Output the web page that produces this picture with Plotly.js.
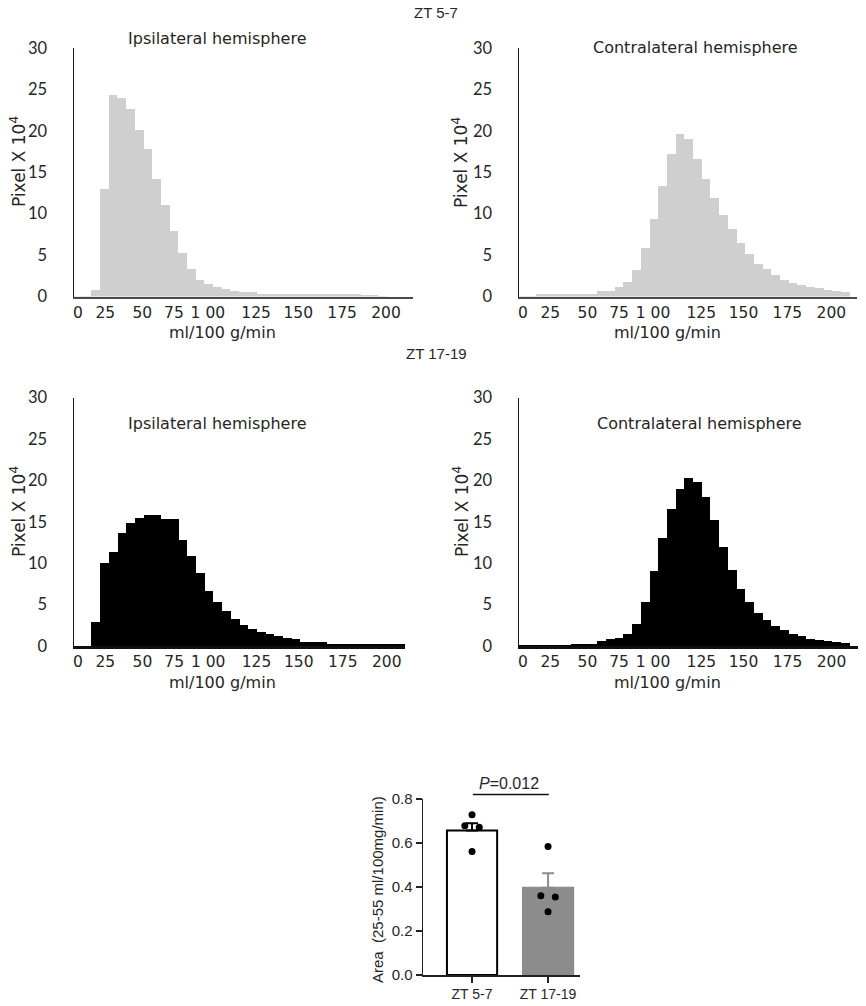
<!DOCTYPE html>
<html>
<head>
<meta charset="utf-8">
<script src="https://cdn.plot.ly/plotly-3.0.1.min.js"></script>
<style>html,body{margin:0;padding:0;background:#fff;}#chart{width:866px;height:1006px;}</style>
</head>
<body>
<div id="chart"></div>
<script>
// ---------- DATA (histogram bins, Pixel x 10^4 per bin) ----------
const ztEarlyIpsi   = [0.1,0.1,0.8,13.0,24.3,24.0,22.6,20.1,17.8,14.2,11.1,7.9,5.3,3.3,2.0,1.5,1.1,0.9,0.7,0.6,0.6,0.3,0.3,0.3,0.3,0.3,0.3,0.3,0.3,0.3,0.25,0.25,0.25,0.2,0.2,0.1,0,0];
const ztEarlyContra = [0.1,0.1,0.25,0.25,0.25,0.25,0.25,0.25,0.25,0.65,0.65,1.2,1.8,3.2,5.8,9.4,13.3,17.2,19.6,19.0,16.6,14.2,11.9,9.9,8.2,6.4,5.1,3.9,3.3,2.6,2.0,1.6,1.4,1.2,1.0,0.8,0.7,0.6];
const ztLateIpsi    = [0,0,2.85,10.0,11.4,13.7,14.8,15.5,15.8,15.8,15.3,15.3,12.8,10.9,8.8,6.7,5.3,4.2,3.3,2.5,2.1,1.75,1.45,1.2,1.0,0.8,0.5,0.5,0.45,0.3,0.3,0.3,0.3,0.3,0.3,0.3,0.3,0.3];
const ztLateContra  = [0.1,0.1,0.1,0.1,0.1,0.1,0.2,0.2,0.2,0.6,0.8,1.0,1.5,2.65,5.3,9.0,13.0,16.6,19.0,20.3,19.8,18.0,15.2,12.0,9.2,6.9,5.3,4.0,3.1,2.45,1.9,1.5,1.2,0.9,0.7,0.65,0.5,0.4];

// x tick labels (as printed) and their place along the bin axis
const xTickText = ["0","25","50","75","1 00","125","150","175","200"];
const xTickPos  = [0.45,3.6,7.86,11.5,15.4,20.95,25.8,30.85,35.9];
const yTickVals = [0,5,10,15,20,25,30];

// bar chart data
const groups    = ["ZT 5-7","ZT 17-19"];
const barMeans  = [0.657,0.397];
const barSEM    = [0.033,0.066];
const pointsEarly = [0.728,0.678,0.672,0.561];
const pointsLate  = [0.584,0.360,0.354,0.288];
const pointJitter = [0,-0.095,0.095,0];
const pText = "<i>P</i>=0.012";

// ---------- LAYOUT HELPERS ----------
const W = 866, H = 1006;
const fx = px => px / W;
const fy = py => 1 - py / H;
const FONT = "Lato, 'Open Sans', sans-serif";
const WIDE = "'DejaVu Sans', 'Open Sans', sans-serif";
const TXT = "#262626";

const panels = [
  {id:"",  vals:ztEarlyIpsi,   color:"#cfcfcf", xd:[74,413],  yd:[296.5,48],  xr:39.0,  title:"Ipsilateral hemisphere",   tpos:[217,38],  xt:[223,332], yt:[18,162],  line:"#4a4a4a"},
  {id:"2", vals:ztEarlyContra, color:"#cfcfcf", xd:[519,857], yd:[296.5,48],  xr:38.85, title:"Contralateral hemisphere", tpos:[695,48],  xt:[667,332], yt:[460,162], line:"#4a4a4a"},
  {id:"3", vals:ztLateIpsi,    color:"#000000", xd:[74,405],  yd:[646,397.5], xr:38.0,  title:"Ipsilateral hemisphere",   tpos:[217,423], xt:[223,682], yt:[18,512],  line:"#111111"},
  {id:"4", vals:ztLateContra,  color:"#000000", xd:[519,858], yd:[646,397.5], xr:38.95, title:"Contralateral hemisphere", tpos:[699,423], xt:[667,682], yt:[461,512], line:"#111111"}
];

const traces = [];
const layout = {
  width: W, height: H,
  margin: {l:0, r:0, t:0, b:0},
  paper_bgcolor: "#fff", plot_bgcolor: "rgba(0,0,0,0)",
  showlegend: false,
  bargap: 0,
  annotations: [],
  shapes: []
};

panels.forEach(p => {
  const xa = "x" + p.id, ya = "y" + p.id;
  traces.push({
    type: "bar",
    x: p.vals.map((v, i) => i + 0.5),
    y: p.vals,
    width: 1,
    marker: {color: p.color, line: {width: 0}},
    xaxis: xa, yaxis: ya,
    hoverinfo: "y"
  });
  layout["xaxis" + p.id] = {
    domain: [fx(p.xd[0]), fx(p.xd[1])],
    anchor: ya,
    range: [0, p.xr],
    tickmode: "array", tickvals: xTickPos, ticktext: xTickText,
    ticks: "", showgrid: false, zeroline: false,
    showline: true, linecolor: p.line, linewidth: 2.5,
    ticklabelstandoff: 0,
    tickfont: {family: WIDE, size: 15.5, color: TXT}
  };
  layout["yaxis" + p.id] = {
    domain: [fy(p.yd[0]), fy(p.yd[1])],
    anchor: xa,
    range: [0, 30],
    tickmode: "array", tickvals: yTickVals,
    ticks: "", showgrid: false, zeroline: false,
    showline: true, linecolor: "#1a1a1a", linewidth: 1.5,
    ticklabelstandoff: 22,
    tickfont: {family: FONT, size: 16.5, color: TXT}
  };
  layout.annotations.push(
    {text: p.title, xref: "paper", yref: "paper", x: fx(p.tpos[0]), y: fy(p.tpos[1]),
     xanchor: "center", yanchor: "middle", showarrow: false, font: {family: WIDE, size: 16, color: TXT}},
    {text: "ml/100 g/min", xref: "paper", yref: "paper", x: fx(p.xt[0]), y: fy(p.xt[1]),
     xanchor: "center", yanchor: "middle", showarrow: false, font: {family: WIDE, size: 16, color: TXT}},
    {text: "Pixel X 10<sup>4</sup>", xref: "paper", yref: "paper", x: fx(p.yt[0]), y: fy(p.yt[1]),
     xanchor: "center", yanchor: "middle", textangle: -90, showarrow: false, font: {family: WIDE, size: 17, color: TXT}}
  );
});

// section titles
layout.annotations.push(
  {text: "ZT 5-7", xref: "paper", yref: "paper", x: fx(436), y: fy(13), xanchor: "center", yanchor: "middle",
   showarrow: false, font: {family: "'Liberation Sans Narrow', 'Liberation Sans', sans-serif", size: 15, color: TXT}},
  {text: "ZT 17-19", xref: "paper", yref: "paper", x: fx(436), y: fy(353), xanchor: "center", yanchor: "middle",
   showarrow: false, font: {family: "'Liberation Sans Narrow', 'Liberation Sans', sans-serif", size: 15, color: TXT}}
);

// ---------- BAR CHART ----------
const ARIAL = "'Liberation Sans', Arial, sans-serif";
const barFill = ["#ffffff", "#8c8c8c"];
const barEdge = ["#000000", "#8c8c8c"];
groups.forEach((g, i) => {
  traces.push({
    type: "bar", x: [i], y: [barMeans[i]], width: 0.66,
    marker: {color: barFill[i], line: {color: barEdge[i], width: 2}},
    error_y: {type: "data", symmetric: false, array: [barSEM[i]], arrayminus: [0],
              color: barEdge[i], thickness: 2, width: 6},
    xaxis: "x5", yaxis: "y5", hoverinfo: "y"
  });
});
[pointsEarly, pointsLate].forEach((pts, gi) => {
  traces.push({
    type: "scatter", mode: "markers",
    x: pts.map((v, k) => gi + pointJitter[k]), y: pts,
    marker: {color: "#000", size: 7},
    xaxis: "x5", yaxis: "y5", hoverinfo: "y"
  });
});
layout.xaxis5 = {
  domain: [fx(423), fx(580)], anchor: "y5",
  range: [-0.645, 1.42],
  tickmode: "array", tickvals: [0, 1], ticktext: groups,
  ticks: "outside", ticklen: 6, tickwidth: 1.5, tickcolor: "#222",
  showline: true, linecolor: "#222", linewidth: 1.5,
  showgrid: false, zeroline: false,
  tickfont: {family: ARIAL, size: 14, color: TXT}
};
layout.yaxis5 = {
  domain: [fy(975), fy(799)], anchor: "x5",
  range: [0, 0.8],
  tickmode: "array", tickvals: [0, 0.2, 0.4, 0.6, 0.8], tickformat: ".1f",
  ticks: "outside", ticklen: 6, tickwidth: 1.5, tickcolor: "#222",
  showline: true, linecolor: "#222", linewidth: 1.5,
  showgrid: false, zeroline: false,
  tickfont: {family: ARIAL, size: 15, color: TXT}
};
layout.annotations.push(
  {text: "Area  (25-55 ml/100mg/min)", xref: "paper", yref: "paper", x: fx(377), y: fy(890),
   xanchor: "center", yanchor: "middle", textangle: -90, showarrow: false, font: {family: ARIAL, size: 15, color: TXT}},
  {text: pText, xref: "x5", yref: "paper", x: 0.49, y: fy(783),
   xanchor: "center", yanchor: "middle", showarrow: false, font: {family: ARIAL, size: 16, color: TXT}}
);
layout.shapes.push({type: "line", xref: "x5", yref: "paper", x0: 0.01, x1: 1.01, y0: fy(794.5), y1: fy(794.5),
  line: {color: "#111", width: 1.5}});

Plotly.newPlot("chart", traces, layout, {displayModeBar: false, staticPlot: true});
</script>
</body>
</html>
